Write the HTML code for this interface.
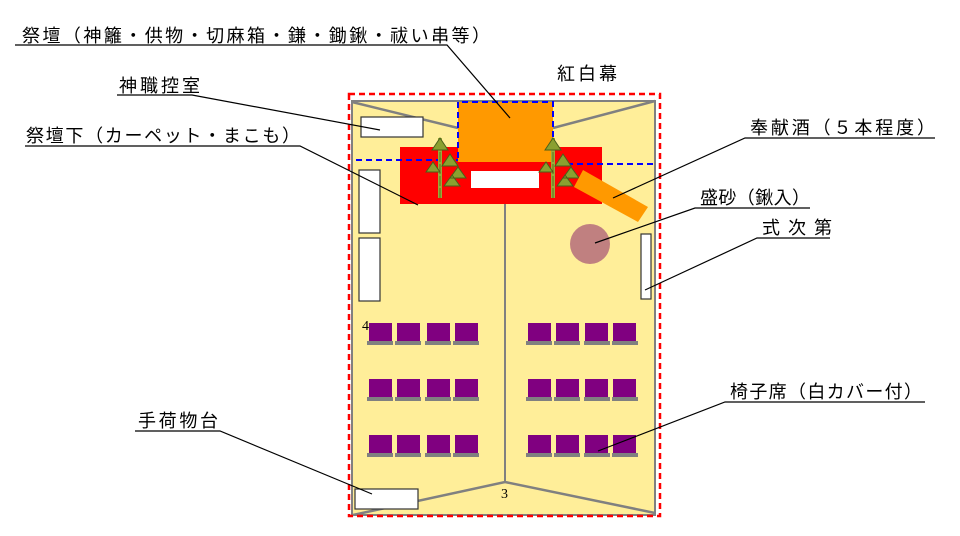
<!DOCTYPE html>
<html><head><meta charset="utf-8"><style>
html,body{margin:0;padding:0;background:#fff;}
svg{display:block;}
text{font-family:"Liberation Sans","Noto Sans CJK JP",sans-serif;font-size:18px;fill:#000;}
</style></head><body>
<svg width="960" height="536" viewBox="0 0 960 536" xmlns="http://www.w3.org/2000/svg">
<defs>
<g id="bam">
<line x1="0" y1="0" x2="0" y2="-60" stroke="#9aaa3a" stroke-width="4"/>
<line x1="0" y1="0" x2="0" y2="-60" stroke="#5a7020" stroke-width="1" stroke-dasharray="10 2"/>
<path d="M-8,-48 l8,-12 l8,12 z M2,-32 l8,-12 l8,12 z M-14,-26 l7,-10 l7,10 z M4,-12 l8,-11 l8,11 z M10,-20 l8,-11 l8,11z" fill="#8aa030" stroke="#4a6018" stroke-width="1"/>
</g>
</defs>
<rect x="352" y="101" width="303" height="414" fill="#ffee99" stroke="#808080" stroke-width="2"/>
<polyline points="352,102 458,128" stroke="#808080" stroke-width="2.5" fill="none"/>
<polyline points="655,101 553,128" stroke="#808080" stroke-width="2.5" fill="none"/>
<polyline points="353,515 505,482 655,513" stroke="#808080" stroke-width="2.5" fill="none"/>
<line x1="505" y1="204" x2="505" y2="482" stroke="#808080" stroke-width="2"/>
<rect x="349" y="94" width="311" height="422" fill="none" stroke="#ff0000" stroke-width="2.5" stroke-dasharray="6 4"/>
<rect x="400" y="147" width="202" height="57" fill="#ff0000"/>
<rect x="458" y="102" width="95" height="60" fill="#ff9900"/>
<rect x="471" y="171" width="68" height="17" fill="#fff"/>
<path d="M458,128 V102 H553 V162" fill="none" stroke="#0000ff" stroke-width="2" stroke-dasharray="6 4"/>
<path d="M458,102 V160 M356,160 H458" fill="none" stroke="#0000ff" stroke-width="2" stroke-dasharray="6 4"/>
<line x1="557" y1="164" x2="655" y2="164" stroke="#0000ff" stroke-width="2" stroke-dasharray="6 4"/>
<use href="#bam" x="440" y="198"/>
<use href="#bam" x="553" y="198"/>
<polygon points="583,170 648,207 638,222 574,187" fill="#ff9900"/>
<circle cx="590" cy="244" r="20" fill="#c08080"/>
<g fill="#fff" stroke="#333" stroke-width="1.2">
<rect x="361" y="117" width="62" height="20"/>
<rect x="359" y="170" width="21" height="63"/>
<rect x="359" y="238" width="21" height="63"/>
<rect x="641" y="234" width="10" height="65"/>
<rect x="355" y="489" width="63" height="20"/>
</g>
<g id="row">
<g fill="#800080"><rect x="369" y="323" width="23" height="18"/><rect x="397" y="323" width="23" height="18"/><rect x="427" y="323" width="23" height="18"/><rect x="455" y="323" width="23" height="18"/>
<rect x="528" y="323" width="23" height="18"/><rect x="556" y="323" width="23" height="18"/><rect x="585" y="323" width="23" height="18"/><rect x="613" y="323" width="23" height="18"/></g>
<g fill="#808080"><rect x="367" y="341" width="26" height="4"/><rect x="395" y="341" width="26" height="4"/><rect x="425" y="341" width="26" height="4"/><rect x="453" y="341" width="26" height="4"/>
<rect x="526" y="341" width="26" height="4"/><rect x="554" y="341" width="26" height="4"/><rect x="584" y="341" width="26" height="4"/><rect x="612" y="341" width="26" height="4"/></g>
</g>
<use href="#row" y="56"/>
<use href="#row" y="112"/>
<text x="362" y="330" style="font-family:'Liberation Serif',serif;font-size:14px">4</text>
<text x="501" y="498" style="font-family:'Liberation Serif',serif;font-size:14px">3</text>
<g stroke="#000" stroke-width="1.2" fill="none">
<polyline points="15,45 447,45 510,118"/>
<polyline points="117,95 192,95 380,130"/>
<polyline points="25,146 300,146 418,205"/>
<polyline points="935,138 745,138 613,198"/>
<polyline points="810,208 695,208 595,243"/>
<polyline points="830,238 757,238 645,290"/>
<polyline points="925,402 725,402 598,451"/>
<polyline points="135,431 220,431 372,494"/>
</g>
<text x="22" y="42" textLength="468" lengthAdjust="spacing">祭壇（神籬・供物・切麻箱・鎌・鋤鍬・祓い串等）</text>
<text x="557" y="80" textLength="60" lengthAdjust="spacing">紅白幕</text>
<text x="119" y="92" textLength="81" lengthAdjust="spacing">神職控室</text>
<text x="26" y="142" textLength="274" lengthAdjust="spacing">祭壇下（カーペット・まこも）</text>
<text x="750" y="134" textLength="185" lengthAdjust="spacing">奉献酒（５本程度）</text>
<text x="700" y="204" textLength="110" lengthAdjust="spacing">盛砂（鍬入）</text>
<text x="762" y="234" textLength="70" lengthAdjust="spacing">式次第</text>
<text x="730" y="398" textLength="192" lengthAdjust="spacing">椅子席（白カバー付）</text>
<text x="138" y="427" textLength="80" lengthAdjust="spacing">手荷物台</text>
</svg>
</body></html>
